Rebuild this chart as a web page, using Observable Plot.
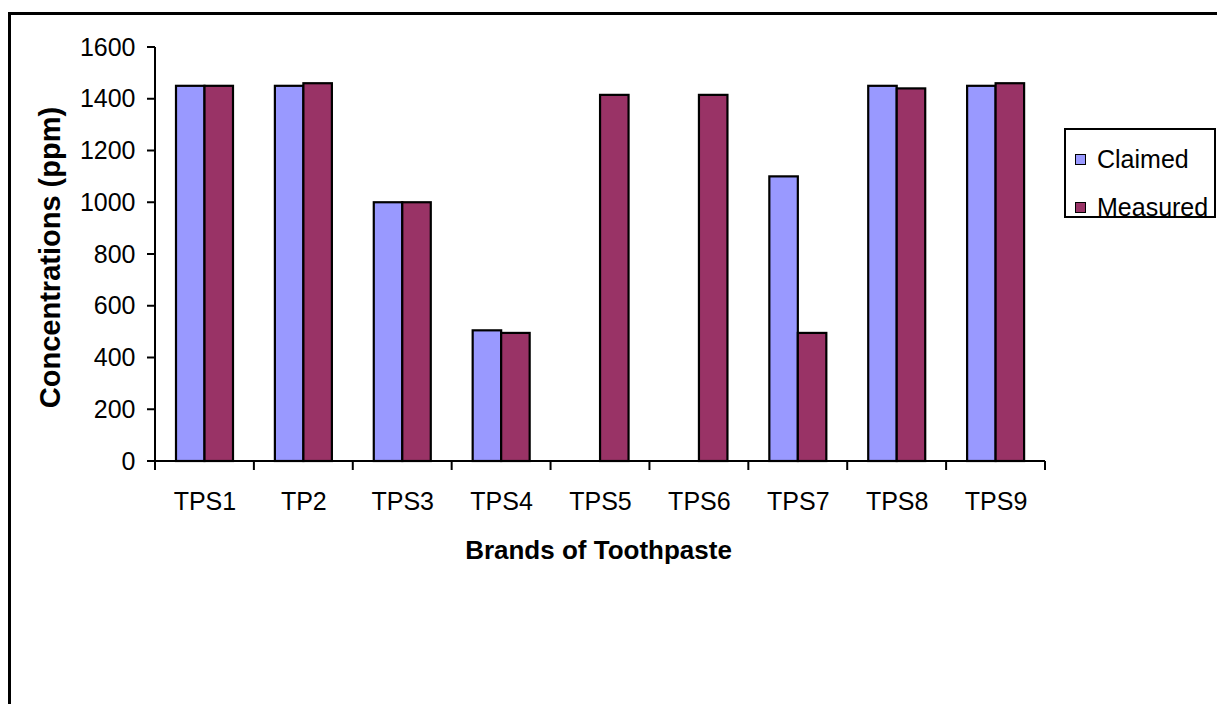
<!DOCTYPE html>
<html>
<head>
<meta charset="utf-8">
<script src="https://cdn.jsdelivr.net/npm/d3@7"></script>
<script src="https://cdn.jsdelivr.net/npm/@observablehq/plot@0.6"></script>
<style>
  html, body { margin: 0; padding: 0; background: #fff; overflow: hidden; width: 1217px; height: 704px; }
  #wrap { position: relative; width: 1217px; height: 704px; font-family: "Liberation Sans", Arial, sans-serif; }
  #border { position: absolute; left: 8px; top: 12px; width: 1400px; height: 900px; border: 3px solid #000; box-sizing: border-box; pointer-events: none; }
  #chart { position: absolute; left: 0; top: 0; }
  #legend { position: absolute; left: 1064px; top: 128px; width: 152px; height: 90px; border: 2px solid #000; box-sizing: border-box; background: #fff; }
  .item { position: absolute; left: 9px; height: 30px; font-size: 25px; line-height: 30px; color: #000; white-space: nowrap; }
  .sw { position: absolute; left: 0; top: 10px; width: 11px; height: 11px; border: 1.5px solid #000; box-sizing: border-box; }
  .lab { position: absolute; left: 22px; top: 0; }
</style>
</head>
<body>
<div id="wrap">
  <div id="chart"></div>
  <div id="legend"></div>
  <div id="border"></div>
</div>
<script>
// ---- data ----
const categories = ["TPS1", "TP2", "TPS3", "TPS4", "TPS5", "TPS6", "TPS7", "TPS8", "TPS9"];
const claimed   = [1450, 1450, 1000, 505, 0, 0, 1100, 1450, 1450];
const measured  = [1450, 1460, 1000, 495, 1415, 1415, 495, 1440, 1460];
const seriesNames = ["Claimed", "Measured"];
const seriesColors = ["#9999FF", "#993366"];
const yTicks = [0, 200, 400, 600, 800, 1000, 1200, 1400, 1600];
const xTitle = "Brands of Toothpaste";
const yTitle = "Concentrations (ppm)";

const rowsClaimed = categories.map((c, i) => ({brand: c, series: seriesNames[0], value: claimed[i]}));
const rowsMeasured = categories.map((c, i) => ({brand: c, series: seriesNames[1], value: measured[i]}));

const W = 1217, H = 704;
const mL = 155, mR = 172, mT = 47, mB = 243;
const bw = (W - mL - mR) / categories.length;
const barW = 28.5;
const gapL = 21;

function axesDecor(index, scales) {
  const x = scales.x, y = scales.y;
  const band = typeof x.bandwidth === "function" ? x.bandwidth() : (x.bandwidth ?? bw);
  const y0 = y(0);
  const left = x(categories[0]);
  const edges = categories.map(c => x(c)).concat([x(categories[categories.length - 1]) + band]);
  const g = d3.create("svg:g").attr("stroke", "#000").attr("stroke-width", 2).attr("fill", "none");
  // y axis line
  g.append("line").attr("x1", left).attr("x2", left)
    .attr("y1", y(yTicks[yTicks.length - 1])).attr("y2", y0);
  // y ticks
  for (const t of yTicks) {
    g.append("line").attr("x1", left - 8).attr("x2", left).attr("y1", y(t)).attr("y2", y(t));
  }
  // x axis line
  g.append("line").attr("x1", left).attr("x2", edges[edges.length - 1]).attr("y1", y0).attr("y2", y0);
  // x ticks between categories
  for (const e of edges) {
    g.append("line").attr("x1", e).attr("x2", e).attr("y1", y0).attr("y2", y0 + 9);
  }
  return g.node();
}

const plot = Plot.plot({
  width: W,
  height: H,
  marginLeft: mL,
  marginRight: mR,
  marginTop: mT,
  marginBottom: mB,
  style: {fontFamily: '"Liberation Sans", Arial, sans-serif', color: "#000", background: "transparent", overflow: "visible"},
  x: {domain: categories, padding: 0, round: false, axis: null},
  y: {domain: [0, 1600], axis: null},
  marks: [
    Plot.barY(rowsClaimed, {x: "brand", y: "value", fill: seriesColors[0], stroke: "#000", strokeWidth: 2.2,
      insetLeft: gapL, insetRight: bw - gapL - barW}),
    Plot.barY(rowsMeasured, {x: "brand", y: "value", fill: seriesColors[1], stroke: "#000", strokeWidth: 2.2,
      insetLeft: gapL + barW, insetRight: bw - gapL - 2 * barW}),
    Plot.axisY({ticks: yTicks, tickSize: 0, tickPadding: 20, fontSize: 25,
      tickFormat: d => String(d), label: null}),
    Plot.axisX({tickSize: 0, tickPadding: 31, fontSize: 25, label: null}),
    axesDecor,
    Plot.text([yTitle], {frameAnchor: "left", textAnchor: "middle", rotate: -90, dx: -105, dy: 3,
      fontWeight: "bold", fontSize: 29, fill: "#000"}),
    Plot.text([xTitle], {frameAnchor: "bottom", textAnchor: "middle", dy: 97, dx: -2,
      fontWeight: "bold", fontSize: 26, fill: "#000"})
  ]
});
document.getElementById("chart").appendChild(plot);

// legend
const legend = document.getElementById("legend");
seriesNames.forEach((name, i) => {
  const item = document.createElement("div");
  item.className = "item";
  item.style.top = (14 + i * 48) + "px";
  const sw = document.createElement("div");
  sw.className = "sw";
  sw.style.background = seriesColors[i];
  const lab = document.createElement("div");
  lab.className = "lab";
  lab.textContent = name;
  item.appendChild(sw);
  item.appendChild(lab);
  legend.appendChild(item);
});
</script>
</body>
</html>
